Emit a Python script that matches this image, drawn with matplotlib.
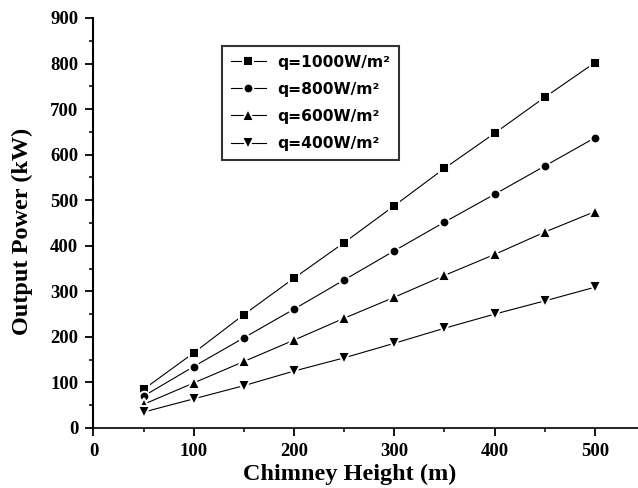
import matplotlib

matplotlib.use("Agg")
import matplotlib.pyplot as plt
from matplotlib.ticker import MultipleLocator

# chimney height (m)
heights = [50, 100, 150, 200, 250, 300, 350, 400, 450, 500]

# output power (kW) per solar irradiation
p_1000 = [85, 165, 249, 329, 407, 488, 570, 647, 726, 802]
p_800 = [70, 135, 198, 261, 325, 389, 452, 513, 575, 637]
p_600 = [52, 99, 146, 193, 241, 287, 335, 381, 430, 475]
p_400 = [35, 64, 93, 125, 154, 186, 219, 250, 279, 309]

labels = ["q=1000W/m²", "q=800W/m²", "q=600W/m²", "q=400W/m²"]
series = [p_1000, p_800, p_600, p_400]
markers = ["s", "o", "^", "v"]
sizes = [7, 7, 8.5, 8.5]

fig = plt.figure(figsize=(6.38, 4.88), dpi=100)
ax = fig.add_axes([93.5 / 638, 60 / 488, 1 - 93.5 / 638, 410 / 488])

for vals, m, ms, lab in zip(series, markers, sizes, labels):
    ax.plot(
        heights,
        vals,
        color="black",
        lw=0.8,
        marker=m,
        ms=ms,
        mfc="black",
        mec="white",
        mew=1.4,
        label=lab,
    )

ax.set_xlim(0, 543)
ax.set_ylim(0, 900)
ax.xaxis.set_major_locator(MultipleLocator(100))
ax.xaxis.set_minor_locator(MultipleLocator(50))
ax.yaxis.set_major_locator(MultipleLocator(100))
ax.yaxis.set_minor_locator(MultipleLocator(50))

for side in ("top", "right"):
    ax.spines[side].set_visible(False)
ax.spines["left"].set_linewidth(1.5)
ax.spines["bottom"].set_linewidth(1.2)

ax.tick_params(which="major", length=6, width=1.3, direction="out", pad=5)
ax.tick_params(which="minor", length=3, width=1.1, direction="out")
for lbl in ax.get_xticklabels() + ax.get_yticklabels():
    lbl.set_fontfamily("Liberation Serif")
    lbl.set_fontweight("bold")
    lbl.set_fontsize(13.5)

ax.set_xlabel("Chimney Height (m)", fontfamily="Liberation Serif",
              fontweight="bold", fontsize=17.5)
ax.set_ylabel("Output Power (kW)", fontfamily="Liberation Serif",
              fontweight="bold", fontsize=17.5)
ax.xaxis.set_label_coords(0.471, -0.088)
ax.yaxis.set_label_coords(-0.112, 0.48)

leg = ax.legend(
    loc="upper left",
    bbox_to_anchor=(222 / 638, 1 - 46 / 488),
    bbox_transform=fig.transFigure,
    prop={"family": "DejaVu Sans", "weight": "bold", "size": 11.2},
    frameon=True,
    fancybox=False,
    borderpad=0.55,
    labelspacing=0.78,
    handlelength=2.3,
    handletextpad=0.7,
    borderaxespad=0,
)
leg.get_frame().set_edgecolor("black")
leg.get_frame().set_linewidth(1.5)

fig.savefig("out.png", dpi=100)
